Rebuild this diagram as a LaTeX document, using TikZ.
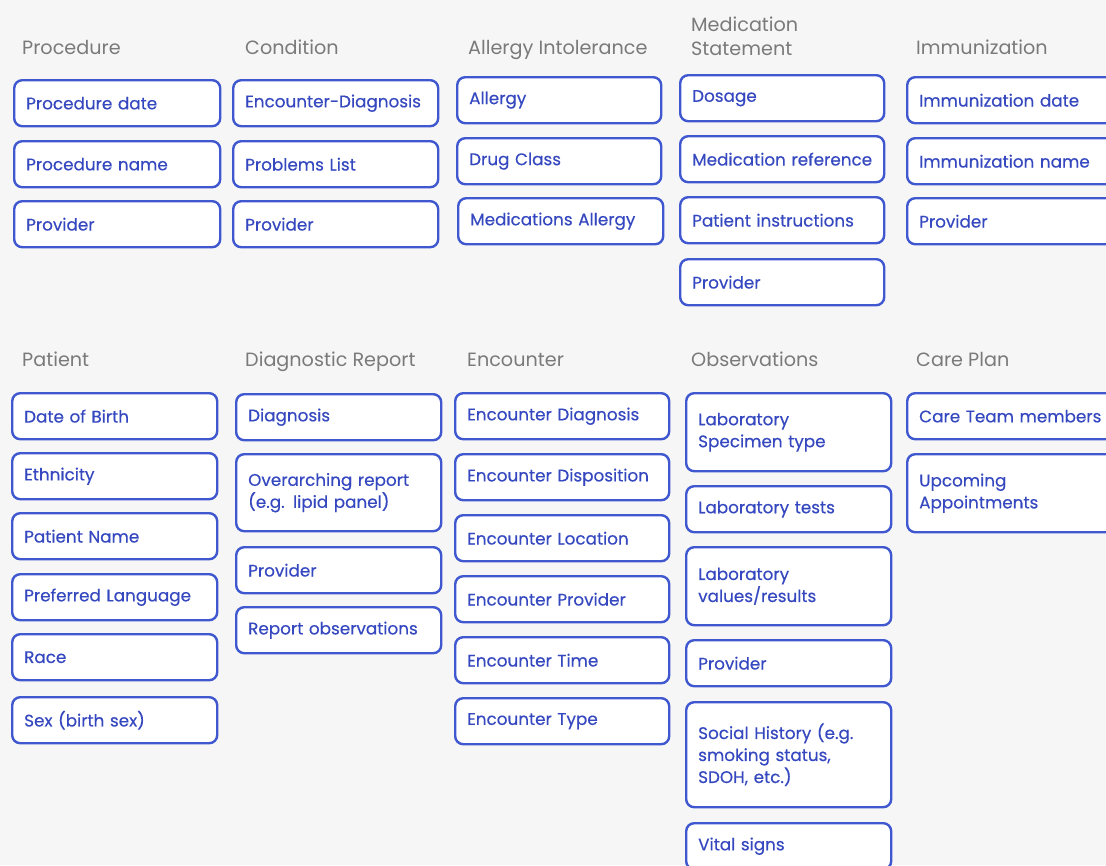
\documentclass[tikz,border=0pt]{standalone}
\usepackage{fontspec}
\setmainfont{Poppins}
\newfontfamily\fieldfont{Poppins}[FakeBold=0.35]
\usepackage{tikz}

\definecolor{pagegray}{HTML}{F6F6F6}
\definecolor{fieldblue}{HTML}{3F57CF}
\definecolor{fieldtext}{HTML}{3548C0}
\definecolor{headgray}{HTML}{7A7A7A}

\tikzset{
  field/.style={draw=fieldblue, fill=white, line width=2.4pt, rounded corners=8pt,
    anchor=north west, minimum height=46pt, align=left, inner xsep=12pt, inner ysep=0pt,
    text=fieldtext, font=\fieldfont\fontsize{16.8}{22}\selectfont},
  header/.style={anchor=base west, align=left, inner sep=0pt, text=headgray,
    font=\fontsize{19.2}{24}\selectfont}
}

\begin{document}
\begin{tikzpicture}[x=1pt,y=-1pt]
\useasboundingbox (0,0) rectangle (1106,865);
\clip (0,0) rectangle (1106,865);
\fill[pagegray] (0,0) rectangle (1106,865);

% top row of groups
\node[header] (hproc) at (22,54) {Procedure};
\node[header] (hcond) at (245,54) {Condition};
\node[header] (hallg) at (468,54) {Allergy Intolerance};
\node[header, anchor=west] (hmed) at (691,36) {Medication\\Statement};
\node[header] (himm) at (916,54) {Immunization};

\node[field, text width=182pt] (proc1) at (13,79) {Procedure date};
\node[field, text width=182pt] (proc2) at (13,140) {Procedure name};
\node[field, text width=182pt] (proc3) at (13,200) {Provider};

\node[field, text width=181pt] (cond1) at (232,79) {Encounter-Diagnosis};
\node[field, text width=181pt] (cond2) at (232,140) {Problems List};
\node[field, text width=181pt] (cond3) at (232,200) {Provider};

\node[field, text width=180pt] (allg1) at (456,76) {Allergy};
\node[field, text width=180pt] (allg2) at (456,137) {Drug Class};
\node[field, text width=181pt] (allg3) at (457,197) {Medications Allergy};

\node[field, text width=180pt] (med1) at (679,74) {Dosage};
\node[field, text width=180pt] (med2) at (679,135) {Medication reference};
\node[field, text width=180pt] (med3) at (679,196) {Patient instructions};
\node[field, text width=180pt] (med4) at (679,258) {Provider};

\node[field, text width=206pt] (imm1) at (906,76) {Immunization date};
\node[field, text width=206pt] (imm2) at (906,137) {Immunization name};
\node[field, text width=206pt] (imm3) at (906,197) {Provider};

% bottom row of groups
\node[header] (hpat) at (22,366) {Patient};
\node[header] (hdiag) at (245,366) {Diagnostic Report};
\node[header] (henc) at (467,366) {Encounter};
\node[header] (hobs) at (691,366) {Observations};
\node[header] (hcare) at (916,366) {Care Plan};

\node[field, text width=181pt] (pat1) at (11,392) {Date of Birth};
\node[field, text width=181pt] (pat2) at (11,452) {Ethnicity};
\node[field, text width=181pt] (pat3) at (11,512) {Patient Name};
\node[field, text width=181pt] (pat4) at (11,573) {Preferred Language};
\node[field, text width=181pt] (pat5) at (11,633) {Race};
\node[field, text width=181pt] (pat6) at (11,696) {Sex (birth sex)};

\node[field, text width=181pt] (diag1) at (235,393) {Diagnosis};
\node[field, text width=181pt, minimum height=77pt] (diag2) at (235,453) {Overarching report\\(e.g. lipid panel)};
\node[field, text width=181pt] (diag3) at (235,546) {Provider};
\node[field, text width=181pt] (diag4) at (235,606) {Report observations};

\node[field, text width=190pt] (enc1) at (454,392) {Encounter Diagnosis};
\node[field, text width=190pt] (enc2) at (454,453) {Encounter Disposition};
\node[field, text width=190pt] (enc3) at (454,514) {Encounter Location};
\node[field, text width=190pt] (enc4) at (454,575) {Encounter Provider};
\node[field, text width=190pt] (enc5) at (454,636) {Encounter Time};
\node[field, text width=190pt] (enc6) at (454,697) {Encounter Type};

\node[field, text width=181pt, minimum height=78pt] (obs1) at (685,392) {Laboratory\\Specimen type};
\node[field, text width=181pt] (obs2) at (685,485) {Laboratory tests};
\node[field, text width=181pt, minimum height=78pt] (obs3) at (685,546) {Laboratory\\values/results};
\node[field, text width=181pt] (obs4) at (685,639) {Provider};
\node[field, text width=181pt, minimum height=105pt] (obs5) at (685,701) {Social History (e.g.\\smoking status,\\SDOH, etc.)};
\node[field, text width=181pt] (obs6) at (685,822) {Vital signs};

\node[field, text width=206pt] (care1) at (906,392) {Care Team members};
\node[field, text width=206pt, minimum height=78pt] (care2) at (906,453) {Upcoming\\Appointments};
\end{tikzpicture}
\end{document}
